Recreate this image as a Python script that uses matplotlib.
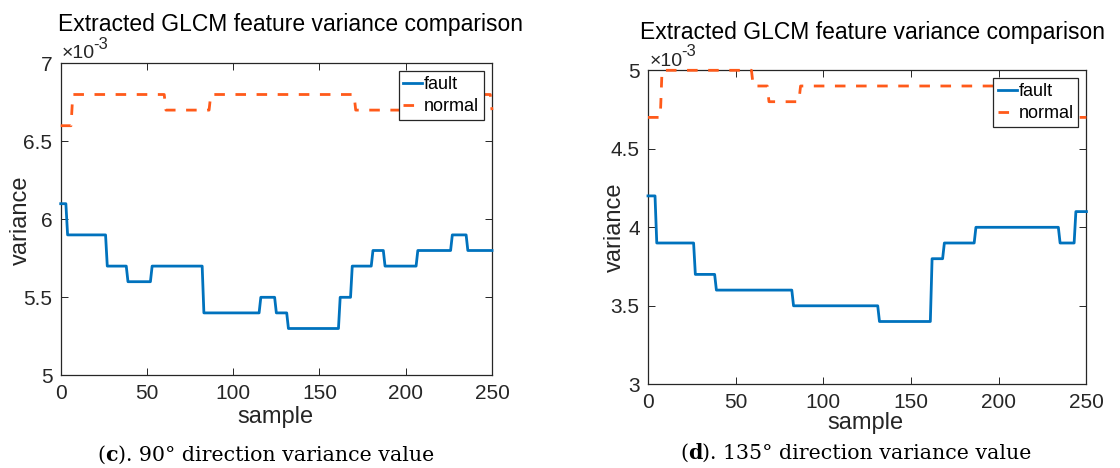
import matplotlib
matplotlib.use("Agg")
import matplotlib.pyplot as plt
import numpy as np
from matplotlib.ticker import FormatStrFormatter

plt.rcParams['font.family'] = 'Liberation Sans'

W, H = 1120, 468

# variance (x1e-3): first sample of each level and the level itself
fault_c_starts = [0, 4, 27, 39, 53, 83, 116, 125, 132, 162, 169, 181, 188, 207, 227, 236]
fault_c_levels = [6.1, 5.9, 5.7, 5.6, 5.7, 5.4, 5.5, 5.4, 5.3, 5.5, 5.7, 5.8, 5.7, 5.8, 5.9, 5.8]
normal_c_starts = [0, 7, 61, 87, 171, 240, 250]
normal_c_levels = [6.6, 6.8, 6.7, 6.8, 6.7, 6.8, 6.7]

fault_d_starts = [0, 5, 27, 39, 83, 132, 162, 169, 187, 235, 244]
fault_d_levels = [4.2, 3.9, 3.7, 3.6, 3.5, 3.4, 3.8, 3.9, 4.0, 3.9, 4.1]
normal_d_starts = [0, 8, 60, 69, 87, 240]
normal_d_levels = [4.7, 5.0, 4.9, 4.8, 4.9, 4.7]

n_samples = 251
xticks = [0, 50, 100, 150, 200, 250]
yticks_c = [5, 5.5, 6, 6.5, 7]
yticks_d = [3, 3.5, 4, 4.5, 5]

BLUE = '#0072BD'
ORANGE = '#FF5A1A'
DARK = '#262626'


def expand(starts, levels):
    lengths = np.diff(list(starts) + [n_samples])
    return np.repeat(levels, lengths)


def fx(x):
    return x / W


def fy(y):
    return 1 - y / H


fig = plt.figure(figsize=(W / 100, H / 100), dpi=100)


def panel(rect, fault, normal, yticks):
    ax = fig.add_axes(rect)
    x = np.arange(n_samples)
    ax.plot(x, fault, color=BLUE, lw=2.0, label='fault', clip_on=False, zorder=3)
    ax.plot(x, normal, color=ORANGE, lw=2.0, dashes=(3.8, 3.8), label='normal',
            clip_on=False, zorder=3)
    ax.set_xlim(0, 250)
    ax.set_ylim(yticks[0], yticks[-1])
    ax.set_xticks(xticks)
    ax.set_yticks(yticks)
    ax.yaxis.set_major_formatter(FormatStrFormatter('%g'))
    ax.tick_params(direction='in', length=5, width=0.7, top=True, right=True,
                   labelsize=15, colors=DARK, pad=6)
    for s in ax.spines.values():
        s.set_color(DARK)
        s.set_linewidth(0.9)
    leg = ax.legend(loc='upper right', fontsize=13, handlelength=1.05,
                    handletextpad=0.1, borderpad=0.25, labelspacing=0.3,
                    borderaxespad=0.45, fancybox=False, framealpha=1)
    leg.get_frame().set_edgecolor(DARK)
    leg.get_frame().set_linewidth(0.9)
    leg.set_zorder(5)
    return ax


ax1 = panel([60.7 / W, 1 - 375.3 / H, 431.3 / W, 312 / H],
            expand(fault_c_starts, fault_c_levels),
            expand(normal_c_starts, normal_c_levels), yticks_c)
ax2 = panel([648 / W, 1 - 384.3 / H, 438.4 / W, 314 / H],
            expand(fault_d_starts, fault_d_levels),
            expand(normal_d_starts, normal_d_levels), yticks_d)

title = 'Extracted GLCM feature variance comparison'
fig.text(fx(290), fy(25), title, fontsize=16.5, ha='center', va='center')
fig.text(fx(873), fy(33), title, fontsize=16.5, ha='center', va='center')

# x10^-3 multipliers
for x0, y0 in [(62, 54), (650, 61)]:
    fig.text(fx(x0), fy(y0), '×10', fontsize=14, color=DARK, ha='left', va='center')
    fig.text(fx(x0 + 31), fy(y0 - 2), '-3', fontsize=12, color=DARK, ha='left', va='bottom')

fig.text(fx(21), fy(220), 'variance', fontsize=17, rotation=90, ha='center', va='center', color=DARK)
fig.text(fx(615), fy(227), 'variance', fontsize=17, rotation=90, ha='center', va='center', color=DARK)
fig.text(fx(275), fy(417), 'sample', fontsize=17, ha='center', va='center', color=DARK)
fig.text(fx(865), fy(423), 'sample', fontsize=17, ha='center', va='center', color=DARK)


def caption(cx, cy, letter, rest, size=14.8):
    parts = [('(', 'normal'), (letter, 'bold'), (rest, 'normal')]
    texts = [fig.text(0, fy(cy), p, fontsize=size, family='DejaVu Serif',
                      weight=w, va='center', ha='left') for p, w in parts]
    fig.canvas.draw()
    r = fig.canvas.get_renderer()
    widths = [t.get_window_extent(r).width for t in texts]
    x = cx - sum(widths) / 2
    for t, w in zip(texts, widths):
        t.set_x(fx(x))
        x += w


caption(266, 455, 'c', '). 90° direction variance value')
caption(856, 453, 'd', '). 135° direction variance value')

fig.savefig('out.png', dpi=100)
